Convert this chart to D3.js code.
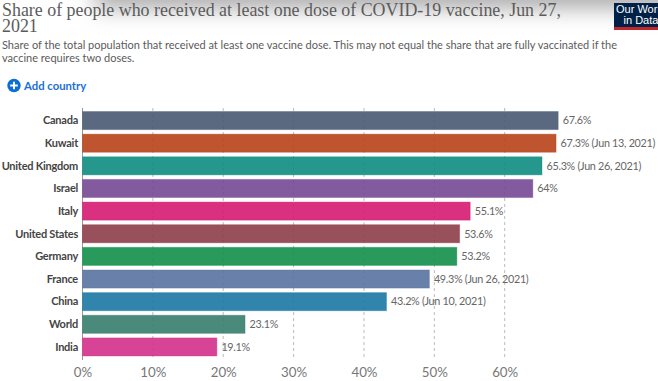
<!DOCTYPE html>
<html>
<head>
<meta charset="utf-8">
<script src="https://cdn.jsdelivr.net/npm/d3@7"></script>
<style>
  body { margin: 0; background: #fff; overflow: hidden; }
  svg { display: block; }
  text { font-family: Lato, "Noto Sans", sans-serif; }
</style>
</head>
<body>
<svg id="drawing_region"></svg>
<script>
const countries = ["Canada", "Kuwait", "United Kingdom", "Israel", "Italy", "United States", "Germany", "France", "China", "World", "India"];
const shares = [67.6, 67.3, 65.3, 64, 55.1, 53.6, 53.2, 49.3, 43.2, 23.1, 19.1];
const dates = ["", "Jun 13, 2021", "Jun 26, 2021", "", "", "", "", "Jun 26, 2021", "Jun 10, 2021", "", ""];
const colors = ["#495972", "#b74319", "#0e8c7f", "#774894", "#d51971", "#8d3d48", "#128f4a", "#5972a1", "#1b77a2", "#367d6d", "#d43089"];
const xticks = [0, 10, 20, 30, 40, 50, 60];
const titleLines = ["Share of people who received at least one dose of COVID-19 vaccine, Jun 27,", "2021"];
const subtitleLines = ["Share of the total population that received at least one vaccine dose. This may not equal the share that are fully vaccinated if the", "vaccine requires two doses."];

const width = 658, height = 381;
const svg = d3.select("#drawing_region").attr("width", width).attr("height", height);

const defs = svg.append("defs");
const blur = defs.append("filter").attr("id", "shadow")
    .attr("x", "-10%").attr("y", "-100%").attr("width", "120%").attr("height", "300%");
blur.append("feGaussianBlur").attr("stdDeviation", 11);

// soft shadow left by the page header above the chart
svg.append("rect")
    .attr("x", 95).attr("y", -22).attr("width", 620).attr("height", 30)
    .attr("fill", "#a8a8a8")
    .attr("filter", "url(#shadow)");

// title and subtitle
svg.append("g").selectAll("text")
    .data(titleLines)
    .enter()
    .append("text")
    .attr("x", 2)
    .attr("y", (d, i) => 15.5 + i * 16.5)
    .attr("fill", "#5b5b5b")
    .style("font-family", "'Liberation Serif', serif")
    .attr("font-size", "17.9px")
    .text(d => d);

svg.append("g").selectAll("text")
    .data(subtitleLines)
    .enter()
    .append("text")
    .attr("x", 2)
    .attr("y", (d, i) => 48.5 + i * 13)
    .attr("fill", "#5b5b5b")
    .attr("font-size", "11px")
    .text(d => d);

// logo, cut off by the window edge
const logo = svg.append("g");
logo.append("rect").attr("x", 614).attr("y", 3).attr("width", 44).attr("height", 24).attr("fill", "#002147");
logo.append("rect").attr("x", 614).attr("y", 27).attr("width", 44).attr("height", 3).attr("fill", "#c0272d");
logo.selectAll("text")
    .data(["Our World", "in Data"])
    .enter()
    .append("text")
    .attr("x", 641)
    .attr("y", (d, i) => 13 + i * 10.5)
    .attr("text-anchor", "middle")
    .attr("fill", "#fff")
    .attr("font-size", "11px")
    .style("font-family", "'Liberation Sans', sans-serif")
    .text(d => d);

// add country button
const add = svg.append("g").attr("transform", "translate(14, 85.5)");
add.append("circle").attr("r", 6.7).attr("fill", "#0a6fd6");
add.append("path").attr("d", "M-3.8,0H3.8M0,-3.8V3.8").attr("stroke", "#fff").attr("stroke-width", 2);
add.append("text")
    .attr("x", 10).attr("y", 4.2)
    .attr("fill", "#1a6fd8")
    .attr("font-size", "11.3px")
    .attr("font-weight", 700)
    .text("Add country");

// chart
const xscale = d3.scaleLinear().domain([0, 60]).range([82.5, 504.7]);
const yscale = d3.scaleBand().domain(countries).range([111.5, 356]).paddingInner(0.2).paddingOuter(0);

const xaxis = d3.axisBottom(xscale)
    .tickValues(xticks)
    .tickFormat(d => d + "%")
    .tickSize(0)
    .tickPadding(8);

const xaxis_group = svg.append("g")
    .attr("transform", "translate(0, 360)")
    .call(xaxis);
xaxis_group.select(".domain").remove();
xaxis_group.selectAll("text")
    .attr("fill", "#777")
    .attr("font-size", "13.3px")
    .style("font-family", "Lato, sans-serif");

svg.append("g").selectAll("line")
    .data(xticks)
    .enter()
    .append("line")
    .attr("x1", d => xscale(d))
    .attr("x2", d => xscale(d))
    .attr("y1", 108)
    .attr("y2", 360)
    .attr("stroke", d => d === 0 ? "#999" : "#bbb")
    .attr("stroke-dasharray", d => d === 0 ? null : "3,3");

const rows = svg.append("g").selectAll("g")
    .data(countries)
    .enter()
    .append("g");

rows.append("rect")
    .attr("x", xscale(0))
    .attr("y", d => yscale(d))
    .attr("width", (d, i) => xscale(shares[i]) - xscale(0))
    .attr("height", yscale.bandwidth())
    .attr("fill", (d, i) => colors[i])
    .attr("fill-opacity", 0.9)
    .attr("stroke", (d, i) => colors[i])
    .attr("stroke-opacity", 0.35);

rows.append("text")
    .attr("x", 78)
    .attr("y", d => yscale(d) + yscale.bandwidth() / 2 + 3.8)
    .attr("text-anchor", "end")
    .attr("fill", "#444")
    .attr("font-size", "11px")
    .attr("font-weight", 700)
    .attr("letter-spacing", "-0.25px")
    .text(d => d);

rows.append("text")
    .attr("x", (d, i) => xscale(shares[i]) + 4.5)
    .attr("y", d => yscale(d) + yscale.bandwidth() / 2 + 3.8)
    .attr("fill", "#666")
    .attr("font-size", "10.8px")
    .attr("letter-spacing", "-0.3px")
    .text((d, i) => shares[i] + "%" + (dates[i] ? " (" + dates[i] + ")" : ""));
</script>
</body>
</html>
